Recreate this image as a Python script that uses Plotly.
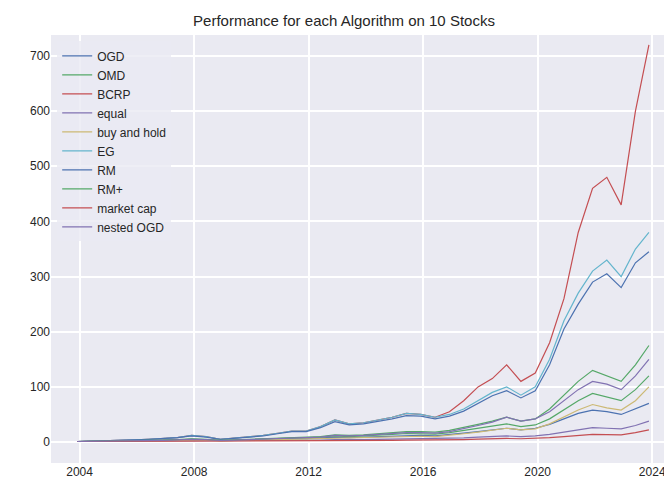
import plotly.graph_objects as go

dates = ["2003-12-01"] + [f"{y}-{m}-01" for y in range(2004, 2024) for m in ("06", "12")]
dates = dates[:40] + ["2023-11-20"]

ogd = [1,1.2,1.5,2,2.5,3,3.5,4,5,4,2.5,3,4,4.5,5,6,6,7,9,8,9,10,11,12,12,11,13,16,19,22,25,22,25,32,42,52,58,55,50,60,70]
omd = [1,1.2,1.5,1.9,2.3,2.8,3.2,4,5,4.5,2.8,3.5,4.5,5.2,6,7,7,8.5,11,10,11,12.5,14,15.5,15.5,14.5,17,21,25,29,33,28,31,42,58,75,88,82,75,95,120]
bcrp = [1,1.5,2,3,4,5,6,8,12,10,5,7,10,12,16,20,20,28,40,33,35,40,45,52,50,45,55,75,100,115,140,110,125,180,260,380,460,480,430,600,720]
equal = [1,1.1,1.2,1.4,1.6,1.8,2,2.3,2.7,2.4,1.6,2,2.4,2.7,3,3.3,3.3,3.7,4.3,4,4.3,4.8,5.3,5.8,5.8,5.5,6.3,7.5,8.8,10,11,10,11,14,18,22,26,25,24,30,38]
buy_hold = [1,1.1,1.3,1.6,2,2.3,2.7,3.2,4,3.5,2.2,2.8,3.5,4,4.5,5,5,6,7.5,7,7.5,8.5,9.5,10.5,10.5,10,12,15,18,21,25,22,24,33,45,58,68,62,58,75,100]
eg = [1,1.5,2,3,4,5,6,8,12,10,5,7,10,12,16,20,20,28,40,33,35,40,45,52,50,45,50,60,75,90,100,85,100,150,220,270,310,330,300,350,380]
rm = [1,1.5,2,3,4,5,6,8,11,9,5,7,9.5,11,15,19,19,26,37,31,33,37,42,48,47,42,47,56,70,84,93,80,93,140,205,250,290,305,280,325,345]
rm_plus = [1,1.3,1.6,2,2.5,3,3.5,4.5,6,5,3,4,5,6,7,8,8,10,13,12,13,15,17,19,19,18,21,26,32,38,45,38,42,60,85,110,130,120,110,140,175]
market_cap = [1,1.05,1.1,1.2,1.3,1.4,1.5,1.6,1.8,1.7,1.2,1.4,1.6,1.7,1.9,2,2,2.2,2.5,2.4,2.6,2.9,3.2,3.5,3.5,3.4,3.8,4.5,5.2,6,6.5,6,6.5,8,10,12.5,14,13.5,13,17,22]
nested_ogd = [1,1.2,1.5,1.9,2.3,2.8,3.2,4,5,4.5,2.8,3.5,4.5,5.5,6.5,7.5,7.5,9,12,11,12,14,16,17,17,16,19,24,30,36,45,38,42,55,75,95,110,105,95,120,150]

names = ["OGD", "OMD", "BCRP", "equal", "buy and hold", "EG", "RM", "RM+", "market cap", "nested OGD"]
series = [ogd, omd, bcrp, equal, buy_hold, eg, rm, rm_plus, market_cap, nested_ogd]
colors = ["#4C72B0", "#55A868", "#C44E52", "#8172B2", "#CCB974", "#64B5CD",
          "#4C72B0", "#55A868", "#C44E52", "#8172B2"]

fig = go.Figure()
for n, s, c in zip(names, series, colors):
    fig.add_trace(go.Scatter(x=dates, y=s, name=n, mode="lines", line=dict(color=c, width=1.2)))

fig.update_layout(
    width=672, height=487,
    margin=dict(l=43, r=10, t=27, b=32),
    paper_bgcolor="white", plot_bgcolor="#EAEAF2",
    font=dict(family="Liberation Sans, Arial", size=12, color="#262626"),
    title=dict(text="Performance for each Algorithm on 10 Stocks", x=0.5, xanchor="center",
               y=0.985, yanchor="top", font=dict(size=15)),
    legend=dict(x=0.01, y=0.985, xanchor="left", yanchor="top", bgcolor="rgba(234,234,242,0.8)",
                bordercolor="rgba(0,0,0,0)", borderwidth=0, font=dict(size=12), tracegroupgap=0),
    showlegend=True,
)
fig.update_xaxes(range=["2003-01-01", "2024-08-15"], tickvals=["2004-01-01", "2008-01-01", "2012-01-01",
                 "2016-01-01", "2020-01-01", "2024-01-01"], ticktext=["2004", "2008", "2012", "2016", "2020", "2024"],
                 gridcolor="white", gridwidth=1.5, showline=False, zeroline=False, ticks="")
fig.update_yaxes(range=[-38, 738], dtick=100, gridcolor="white", gridwidth=1.5, zeroline=False, ticks="")

fig.write_html("out.html")
